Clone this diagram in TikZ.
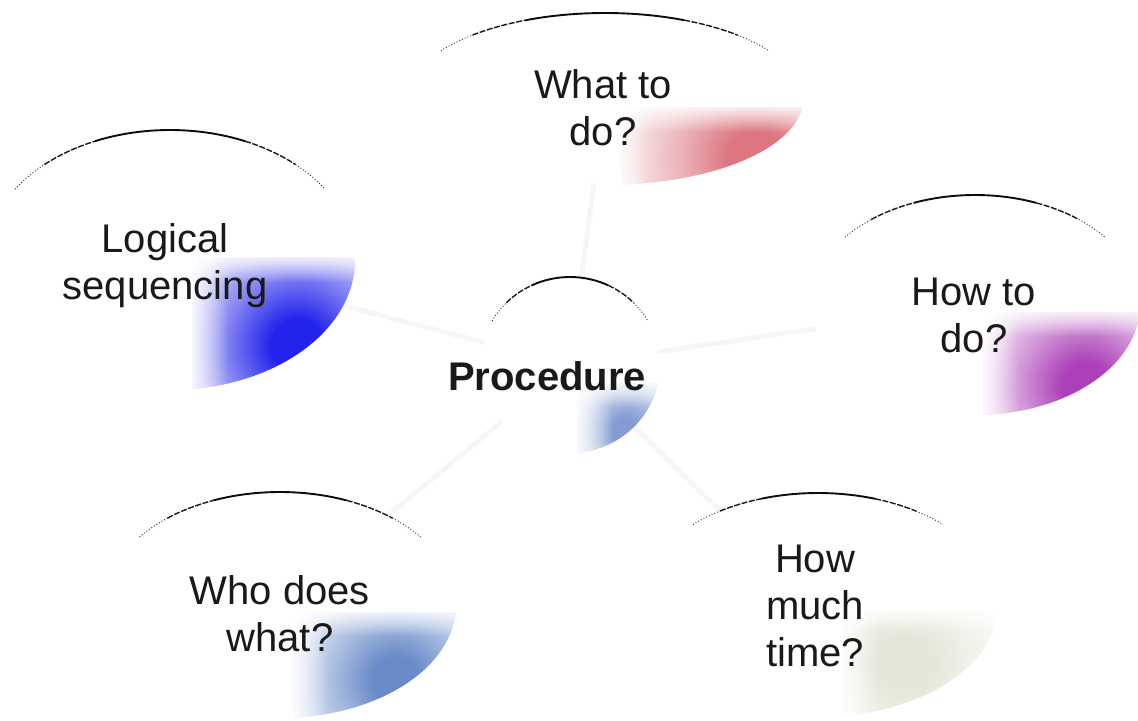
\documentclass[tikz,border=0pt]{standalone}
\usepackage{fontspec}
\setmainfont{Liberation Sans}
\usetikzlibrary{shapes.geometric,calc,fadings}

% soft radial gloss: full colour at the spot, fading to white
\pgfdeclareradialshading[glosscol]{gloss}{\pgfpoint{0bp}{0bp}}{%
  color(0bp)=(glosscol); color(5bp)=(glosscol); color(14bp)=(glosscol!55!white);
  color(24bp)=(glosscol!15!white); color(32bp)=(white); color(50bp)=(white)}
% white veils that soften the inner edges of a gloss
\tikzfading[name=veilleft, left color=transparent!0, right color=transparent!100]
\tikzfading[name=veiltop, top color=transparent!0, bottom color=transparent!100]

\definecolor{glLogical}{RGB}{35,35,235}
\definecolor{glWhat}{RGB}{220,118,128}
\definecolor{glHow}{RGB}{172,64,184}
\definecolor{glWho}{RGB}{104,138,200}
\definecolor{glProc}{RGB}{132,156,210}
\definecolor{glTime}{RGB}{228,228,215}
\definecolor{ink}{RGB}{25,25,25}

% one segment of the elliptic cap line above a bubble
\newcommand{\capseg}[6]{% style, centre, x radius, y radius, start, end
  \draw[#1] ($(#2)+({#5}:#3 and #4)$) arc[start angle={#5}, end angle={#6}, x radius=#3, y radius=#4];}
% cap line: dotted ends, dashed shoulders, solid middle
\newcommand{\capline}[4]{% centre, x radius, y radius, half span
  \capseg{capdot}{#1}{#2}{#3}{90+#4}{90+0.75*#4}
  \capseg{capdash}{#1}{#2}{#3}{90+0.75*#4}{90+0.42*#4}
  \capseg{capsolid}{#1}{#2}{#3}{90+0.42*#4}{90-0.42*#4}
  \capseg{capdash}{#1}{#2}{#3}{90-0.42*#4}{90-0.75*#4}
  \capseg{capdot}{#1}{#2}{#3}{90-0.75*#4}{90-#4}}
% coloured gloss in the lower right quarter of a bubble
\newcommand{\glossy}[7]{% colour, centre, x radius, y radius, corner, spot, radius
  \begin{scope}
    \clip (#2) ellipse[x radius=#3, y radius=#4];
    \clip (#5) rectangle ($(#2)+(#3+5,-#4-5)$);
    \colorlet{glosscol}{#1}
    \shade[shading=gloss] (#6) circle[radius=#7];
    \fill[white, path fading=veilleft] ($(#5)+(-6,6)$) rectangle ++(42,-310);
    \fill[white, path fading=veiltop] ($(#5)+(-6,6)$) rectangle ++(410,-30);
  \end{scope}}

\tikzset{
  bubble/.style 2 args={ellipse, minimum width=#1pt, minimum height=#2pt, inner sep=0pt},
  label/.style={font=\fontsize{20}{23.5}\selectfont, text=ink, align=center, inner sep=0pt},
  link/.style={line width=2.5pt, black!3.5, line cap=round},
  capdot/.style={line width=0.45pt, black!80, dash pattern=on 0.5pt off 1pt},
  capdash/.style={line width=0.7pt, black!90, dash pattern=on 3pt off 0.8pt},
  capsolid/.style={line width=0.95pt, black!95},
}

\begin{document}
\begin{tikzpicture}[x=0.5pt, y=0.5pt]
  \useasboundingbox (0,0) rectangle (1138,-721);

  % bubbles (outline not drawn)
  \node[bubble={90}{88}]   (proc)    at (570,-365) {};
  \node[bubble={198}{86}]  (what)    at (605,-99)  {};
  \node[bubble={185}{130}] (logical) at (170,-260) {};
  \node[bubble={165}{110}] (how)     at (975,-305) {};
  \node[bubble={176}{113}] (who)     at (280,-605) {};
  \node[bubble={180}{112}] (time)    at (818,-605) {};

  % faint spokes from the hub
  \draw[link] (proc) -- (what);
  \draw[link] (proc) -- (logical);
  \draw[link] (proc) -- (how);
  \draw[link] (proc) -- (who);
  \draw[link] (proc) -- (time);

  % glosses
  \glossy{glProc}{proc.center}{90}{88}{577,-383}{626,-432}{70}
  \glossy{glWhat}{what.center}{198}{86}{612,-108}{755,-158}{135}
  \glossy{glLogical}{logical.center}{185}{130}{192,-258}{297,-345}{130}
  \glossy{glHow}{how.center}{165}{110}{982,-312}{1085,-385}{115}
  \glossy{glWho}{who.center}{176}{113}{292,-612}{396,-680}{115}
  \glossy{glTime}{time.center}{180}{112}{842,-610}{905,-662}{110}

  % cap lines
  \capline{proc.center}{90}{88}{60}
  \capline{what.center}{198}{86}{56}
  \capline{logical.center}{185}{130}{57}
  \capline{how.center}{165}{110}{52}
  \capline{who.center}{176}{113}{53}
  \capline{time.center}{180}{112}{44}

  % labels
  \node[label, font=\fontsize{20}{23.5}\selectfont\bfseries] (tproc) at (547,-376) {Procedure};
  \node[label] (twhat)    at (603,-108) {What to\\do?};
  \node[label] (tlogical) at (165,-266) {Logical\\sequencing};
  \node[label] (thow)     at (974,-315) {How to\\do?};
  \node[label] (twho)     at (280,-614) {Who does\\what?};
  \node[label] (ttime)    at (815,-606) {How\\much\\time?};
\end{tikzpicture}
\end{document}
